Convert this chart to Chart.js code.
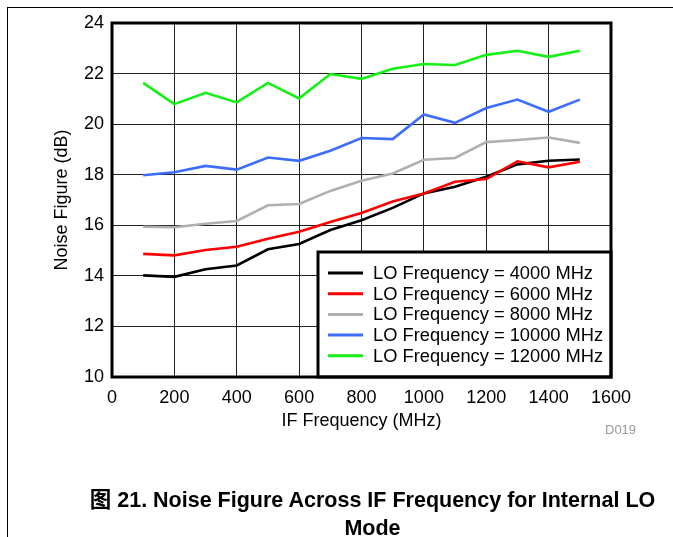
<!DOCTYPE html>
<html>
<head>
<meta charset="utf-8">
<script src="https://cdn.jsdelivr.net/npm/chart.js@4"></script>
<style>
  html, body { margin: 0; padding: 0; background: #fff; }
  body { width: 673px; height: 537px; position: relative; overflow: hidden; font-family: "Liberation Sans", Arial, sans-serif; }
  #frame { position: absolute; left: 7px; top: 7px; width: 700px; height: 600px; border-top: 1px solid #000; border-left: 1px solid #000; }
  #wrap { position: absolute; left: 0; top: 0; width: 673px; height: 537px; }
  #code { position: absolute; left: 605px; top: 422px; font-size: 13px; color: #999; }
  #caption { position: absolute; left: 60px; width: 625px; top: 484px; text-align: center; font-weight: bold; font-size: 21.5px; line-height: 28px; color: #000; }
  #caption .cjk { font-family: "Noto Sans CJK SC", sans-serif; }
</style>
</head>
<body>
<div id="frame"></div>
<div id="wrap"><canvas id="chart" width="673" height="537"></canvas></div>
<div id="code">D019</div>
<div id="caption"><span class="cjk">图</span> 21. Noise Figure Across IF Frequency for Internal LO<br>Mode</div>
<script>
// Noise figure vs IF frequency, one series per LO frequency
const ifFreq = [100, 200, 300, 400, 500, 600, 700, 800, 900, 1000, 1100, 1200, 1300, 1400, 1500];
const lo4000 = [14.02, 13.96, 14.26, 14.41, 15.05, 15.26, 15.81, 16.2, 16.69, 17.26, 17.52, 17.92, 18.41, 18.55, 18.6];
const lo6000 = [14.87, 14.81, 15.02, 15.15, 15.47, 15.74, 16.13, 16.49, 16.94, 17.26, 17.72, 17.83, 18.53, 18.29, 18.51];
const lo8000 = [15.94, 15.92, 16.06, 16.17, 16.79, 16.84, 17.36, 17.76, 18.05, 18.59, 18.66, 19.29, 19.37, 19.47, 19.26];
const lo10000 = [17.98, 18.1, 18.35, 18.2, 18.68, 18.55, 18.95, 19.45, 19.41, 20.38, 20.05, 20.64, 20.97, 20.49, 20.97];
const lo12000 = [21.63, 20.79, 21.24, 20.86, 21.63, 21.02, 21.98, 21.79, 22.19, 22.38, 22.34, 22.74, 22.9, 22.66, 22.9];

const xTicks = [0, 200, 400, 600, 800, 1000, 1200, 1400, 1600];
const yTicks = [10, 12, 14, 16, 18, 20, 22, 24];

const seriesLabels = ['LO Frequency = 4000 MHz', 'LO Frequency = 6000 MHz', 'LO Frequency = 8000 MHz',
    'LO Frequency = 10000 MHz', 'LO Frequency = 12000 MHz'];
const seriesData = [lo4000, lo6000, lo8000, lo10000, lo12000];
const seriesColors = ['#000000', '#ff0000', '#b0b0b0', '#3d6dff', '#14f014'];

const FONT = '"Liberation Sans", Arial, sans-serif';

// legend box sits in the lower right corner of the plot, plus the heavy plot frame
const boxLegend = {
    id: 'boxLegend',
    afterDatasetsDraw(chart) {
        const ctx = chart.ctx;
        const a = chart.chartArea;
        const bx = 318, by = 252;
        ctx.save();
        ctx.fillStyle = '#fff';
        ctx.fillRect(bx, by, a.right - bx, a.bottom - by);
        ctx.lineWidth = 3;
        ctx.strokeStyle = '#000';
        ctx.strokeRect(bx, by, a.right - bx, a.bottom - by);
        ctx.font = '18.3px ' + FONT;
        ctx.textBaseline = 'middle';
        chart.data.datasets.forEach((ds, i) => {
            const y = 273 + i * 20.7;
            ctx.strokeStyle = ds.borderColor;
            ctx.lineWidth = 3;
            ctx.beginPath();
            ctx.moveTo(328, y);
            ctx.lineTo(363, y);
            ctx.stroke();
            ctx.fillStyle = '#000';
            ctx.fillText(ds.label, 373, y + 1);
        });
        ctx.lineWidth = 3;
        ctx.strokeStyle = '#000';
        ctx.strokeRect(a.left, a.top, a.right - a.left, a.bottom - a.top);
        ctx.restore();
    }
};

new Chart(document.getElementById('chart'), {
    type: 'line',
    data: {
        datasets: seriesData.map((vals, i) => ({
            label: seriesLabels[i],
            data: vals.map((v, j) => ({ x: ifFreq[j], y: v })),
            borderColor: seriesColors[i],
            borderWidth: 2.6,
            pointRadius: 0,
            tension: 0,
            fill: false,
            order: 5 - i
        }))
    },
    options: {
        responsive: false,
        animation: false,
        events: [],
        layout: { padding: { left: 0, top: 23, right: 62, bottom: 100 } },
        plugins: { legend: { display: false }, tooltip: { enabled: false } },
        scales: {
            x: {
                type: 'linear',
                min: 0,
                max: 1600,
                afterBuildTicks: s => { s.ticks = xTicks.map(v => ({ value: v })); },
                afterFit: s => { s.height = 60; },
                grid: { color: '#222', lineWidth: 1, drawTicks: false },
                border: { display: false },
                ticks: { color: '#000', padding: 10, maxRotation: 0, callback: v => String(v), font: { family: FONT, size: 18 } },
                title: { display: true, text: 'IF Frequency (MHz)', color: '#000', padding: { top: 0, bottom: 5 }, font: { family: FONT, size: 18 } }
            },
            y: {
                type: 'linear',
                min: 10,
                max: 24,
                afterBuildTicks: s => { s.ticks = yTicks.map(v => ({ value: v })); },
                afterFit: s => { s.width = 112; },
                grid: { color: '#222', lineWidth: 1, drawTicks: false },
                border: { display: false },
                ticks: { color: '#000', padding: 8, callback: v => String(v), font: { family: FONT, size: 18 } },
                title: { display: true, text: 'Noise Figure (dB)', color: '#000', padding: { top: 51, bottom: 0 }, font: { family: FONT, size: 18 } }
            }
        }
    },
    plugins: [boxLegend]
});
</script>
</body>
</html>
